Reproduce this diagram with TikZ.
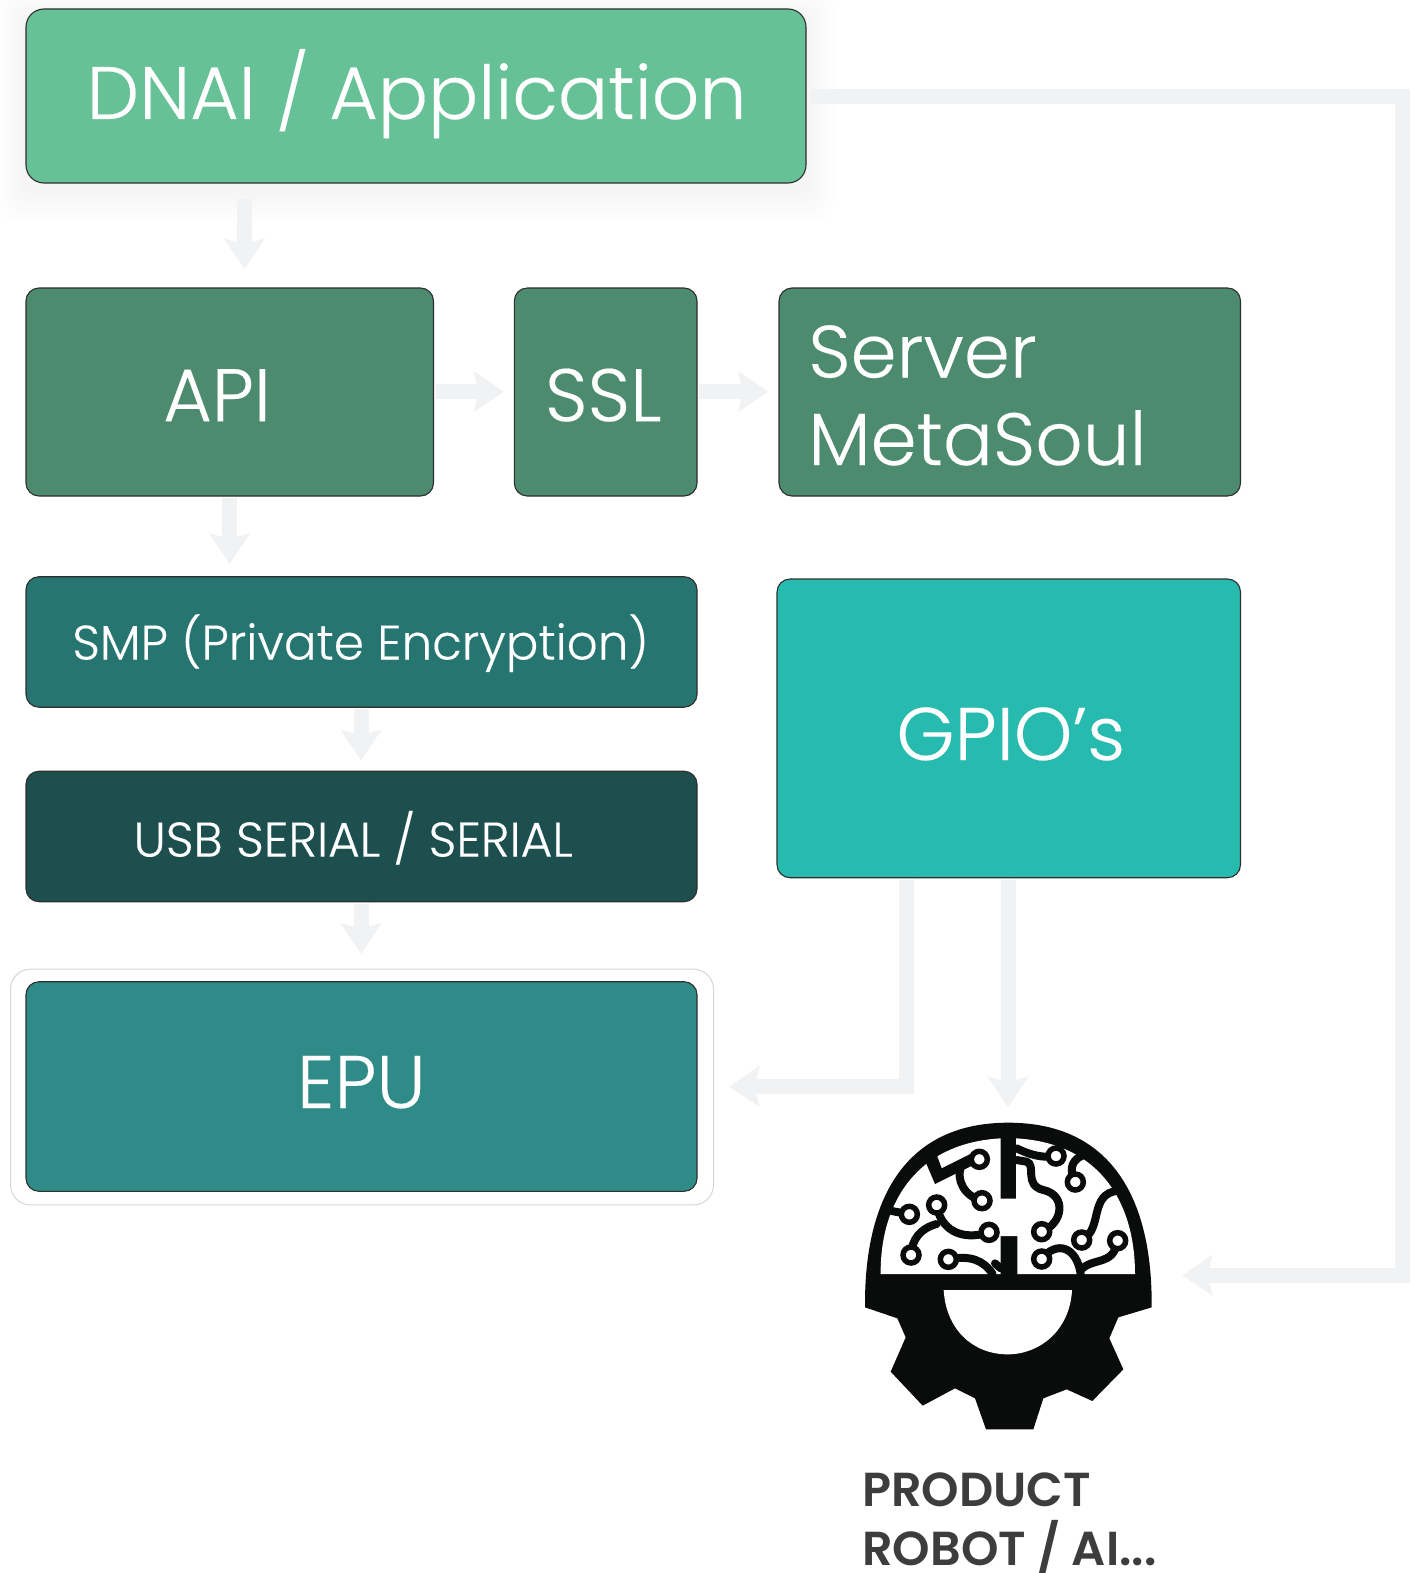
\documentclass[tikz,border=0pt]{standalone}
\usepackage{fontspec}
\usetikzlibrary{arrows.meta}
\setmainfont{Poppins}
\newfontfamily\plight{Poppins Light}[FakeBold=0.25]
\newfontfamily\psemi{Poppins SemiBold}
\definecolor{cdnai}{HTML}{66C296}
\definecolor{capi}{HTML}{4C8B6D}
\definecolor{csmp}{HTML}{267570}
\definecolor{cusb}{HTML}{1D4F4F}
\definecolor{cepu}{HTML}{2F8B87}
\definecolor{cgpio}{HTML}{26BBAE}
\definecolor{cflow}{HTML}{F1F2F4}
\definecolor{cline}{HTML}{2E2E2E}
\definecolor{cicon}{HTML}{0A0C0B}
\tikzset{
  x=1bp,y=-1bp,
  boxn/.style={draw=cline,line width=1.1bp,rounded corners=13bp,anchor=north west,inner sep=0pt,outer sep=0pt},
  txt/.style={text=white,inner sep=0pt,outer sep=0pt,anchor=base,font=\plight},
  flow/.style={draw=cflow,line width=15bp,miter limit=10,-{Stealth[length=30bp,width=40bp,inset=5bp]}},
  trace/.style={draw=cicon,line width=8bp,line cap=round},
  dot/.style={draw=cicon,fill=white,line width=5.5bp},
  plabel/.style={inner sep=0pt,outer sep=0pt,anchor=base west,text=black!76,font=\psemi},
}
\newcommand{\fsz}[1]{\fontsize{#1bp}{#1bp}\selectfont}
\begin{document}
\begin{tikzpicture}
\useasboundingbox (0,0) rectangle (1415,1573);
\fill[white] (0,0) rectangle (1415,1573);
% soft shadow
\foreach \s in {3,6,...,30}{
  \fill[black,opacity=0.002,rounded corners=20bp] (26-\s,9-\s+8) rectangle (806+\s,183+\s+8);
}
% EPU halo
\node[draw=black!16,line width=1bp,rounded corners=20bp,anchor=north west,minimum width=703bp,minimum height=235.7bp,inner sep=0pt] (halo) at (10,968.7) {};
% boxes
\node[boxn,fill=cdnai,rounded corners=18bp,minimum width=780bp,minimum height=174bp] (dnai) at (26,9) {};
\node[boxn,fill=capi,minimum width=407.5bp,minimum height=208bp] (api) at (26,288) {};
\node[boxn,fill=capi,minimum width=182.7bp,minimum height=208bp] (ssl) at (514.3,288) {};
\node[boxn,fill=capi,minimum width=461.5bp,minimum height=208bp] (server) at (779,288) {};
\node[boxn,fill=csmp,minimum width=671bp,minimum height=130.5bp] (smp) at (26,576.7) {};
\node[boxn,fill=cusb,minimum width=671bp,minimum height=130.5bp] (usb) at (26,771.2) {};
\node[boxn,fill=cepu,minimum width=671bp,minimum height=209.6bp] (epu) at (26,981.7) {};
\node[boxn,fill=cgpio,minimum width=463.5bp,minimum height=298.7bp] (gpio) at (777,579) {};
% labels
\node[txt] (tdnai) at (416.6,119) {\fsz{74.4}DNAI / Application};
\node[txt] (tapi) at (217.1,421.2) {\fsz{74.5}API};
\node[txt] (tssl) at (603.2,421.2) {\fsz{74.5}SSL};
\node[txt,anchor=base west] (tsrv1) at (808.3,377.5) {\fsz{74}Server};
\node[txt,anchor=base west] (tsrv2) at (808.3,465) {\fsz{74}MetaSoul};
\node[txt] (tsmp) at (360.5,659.5) {\fsz{48.4}SMP (Private Encryption)};
\node[txt] (tusb) at (353.2,856.6) {\fsz{48.7}USB SERIAL / SERIAL};
\node[txt] (tepu) at (361.3,1108) {\fsz{74.5}EPU};
\node[txt] (tgpio) at (1010.8,760) {\fsz{74.5}GPIO’s};
\node[plabel] (prod1) at (862.4,1506) {\fsz{47.7}PRODUCT};
\node[plabel] (prod2) at (862.4,1565) {\fsz{47.7}ROBOT / AI...};
% icon
\begin{scope}[shift={(840bp,-1100bp)},x=0.33333bp,y=-0.33333bp]
\fill[cicon] (75,622) .. controls (72,290) and (200,68) .. (505,68) .. controls (810,68) and (938,290) .. (935,622)
  -- (835,652) -- (808,715) -- (850,808) -- (757,903) -- (680,868) -- (610,895) -- (580,988) -- (438,988)
  -- (405,895) -- (345,865) -- (248,917) -- (152,815) -- (197,712) -- (172,655) -- cycle;
\fill[white] (122,522) .. controls (120,320) and (220,130) .. (482,115) -- (482,296) -- (528,296) -- (528,115)
  .. controls (790,130) and (885,320) .. (885,522) -- (532,522) -- (532,408) -- (482,408) -- (482,522) -- cycle;
\fill[white] (311,570) -- (696,570) .. controls (690,690) and (600,763) .. (503,763) .. controls (400,763) and (318,690) .. (311,570) -- cycle;
% traces left
\fill[cicon] (250,170) -- (285,150) -- (305,205) -- (395,160) -- (400,195) -- (285,252) -- cycle;
\draw[trace] (365,195) .. controls (345,240) and (375,290) .. (426,302);
\draw[trace] (150,332) -- (208,343);
\draw[trace] (290,315) .. controls (300,385) and (360,425) .. (447,397);
\draw[trace] (290,372) .. controls (240,385) and (215,420) .. (213,465);
\draw[trace] (325,478) .. controls (390,465) and (430,480) .. (458,522);
\draw[trace] (482,505) -- (465,490);
% traces right
\draw[trace] (530,145) .. controls (570,165) and (610,175) .. (648,168);
\draw[trace] (530,180) -- (560,185) .. controls (590,195) and (550,255) .. (610,270) .. controls (680,285) and (670,370) .. (605,395);
\draw[trace] (706,246) .. controls (680,200) and (705,175) .. (730,165);
\draw[trace] (725,420) .. controls (790,390) and (745,280) .. (835,272);
\draw[trace] (833,422) .. controls (820,500) and (760,470) .. (722,510);
\draw[trace] (605,477) .. controls (650,420) and (710,440) .. (722,522);
% pads
\foreach \x/\y in {418/178,426/302,208/343,290/315,447/397,213/465,325/478,648/168,605/395,706/246,725/420,833/422,605/477}
  \draw[dot] (\x,\y) circle[radius=24];
\end{scope}
\node[inner sep=0pt,outer sep=0pt,minimum width=287bp,minimum height=307bp,anchor=north west] (robot) at (865,1122.7) {};
% connectors
\coordinate (c1) at (244.5,0);
\coordinate (c2) at (229.6,0);
\coordinate (c3) at (361,0);
\coordinate (c4) at (0,391.7);
\coordinate (c5) at (906.5,1086.5);
\coordinate (c6) at (1008,0);
\coordinate (c7) at (0,96.3);
\coordinate (c8) at (1402,1275.3);
\draw[flow,shorten <=16bp,shorten >=19bp] (c1 |- dnai.south) -- (c1 |- api.north);
\draw[flow,shorten <=2bp,shorten >=10.3bp] (c4 -| api.east) -- (c4 -| ssl.west);
\draw[flow,shorten <=2bp,shorten >=10.7bp] (c4 -| ssl.east) -- (c4 -| server.west);
\draw[flow,shorten <=2bp,shorten >=13bp] (c2 |- api.south) -- (c2 |- smp.north);
\draw[flow,shorten <=2bp,shorten >=11bp] (c3 |- smp.south) -- (c3 |- usb.north);
\draw[flow,shorten <=2bp,shorten >=15bp] (c3 |- usb.south) -- (c3 |- halo.north);
\draw[flow,shorten <=2bp,shorten >=15.3bp] (c5 |- gpio.south) -- (c5) -- (c5 -| halo.east);
\draw[flow,shorten <=2bp,shorten >=15.7bp] (c6 |- gpio.south) -- (c6 |- robot.north);
\draw[flow,shorten <=4bp,shorten >=30.3bp] (c7 -| dnai.east) -- (c7 -| c8) -- (c8) -- (c8 -| robot.east);
\end{tikzpicture}
\end{document}
